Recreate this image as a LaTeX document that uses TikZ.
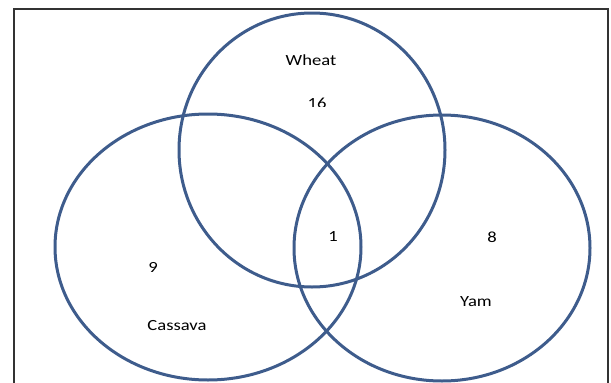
\documentclass[tikz,border=0pt]{standalone}
\usepackage{fontspec}
\setmainfont{Carlito}
\definecolor{vblue}{RGB}{62,92,140}
\begin{document}
\begin{tikzpicture}[x=1pt,y=-1pt,
  setc/.style={draw=vblue,line width=3pt},
  lbl/.style={font=\fontsize{15.5}{17}\selectfont,inner sep=0pt}]
\useasboundingbox (0,0) rectangle (611,383);
\draw[line width=1.2pt,black!80] (14,383) -- (14,9) -- (608,9) -- (608,383);
\draw[setc] (312,150) ellipse [x radius=133, y radius=137];
\draw[setc] (208,247) ellipse [x radius=153, y radius=133];
\draw[setc] (442,248) ellipse [x radius=148, y radius=133];
\node[lbl] (wheat) at (311,60) {\scalebox{1.2}[1]{Wheat}};
\begin{scope}
\clip (290,90) rectangle (340,106);
\node[lbl] (n16) at (317,103) {\scalebox{1.2}[1]{16}};
\end{scope}
\node[lbl] (n1) at (333,237) {\scalebox{1.2}[1]{1}};
\node[lbl] (n8) at (492,237) {\scalebox{1.2}[1]{8}};
\node[lbl] (n9) at (153,267) {\scalebox{1.2}[1]{9}};
\node[lbl] (yam) at (476,302) {\scalebox{1.2}[1]{Yam}};
\node[lbl] (cassava) at (177,326) {\scalebox{1.2}[1]{Cassava}};
\end{tikzpicture}
\end{document}
